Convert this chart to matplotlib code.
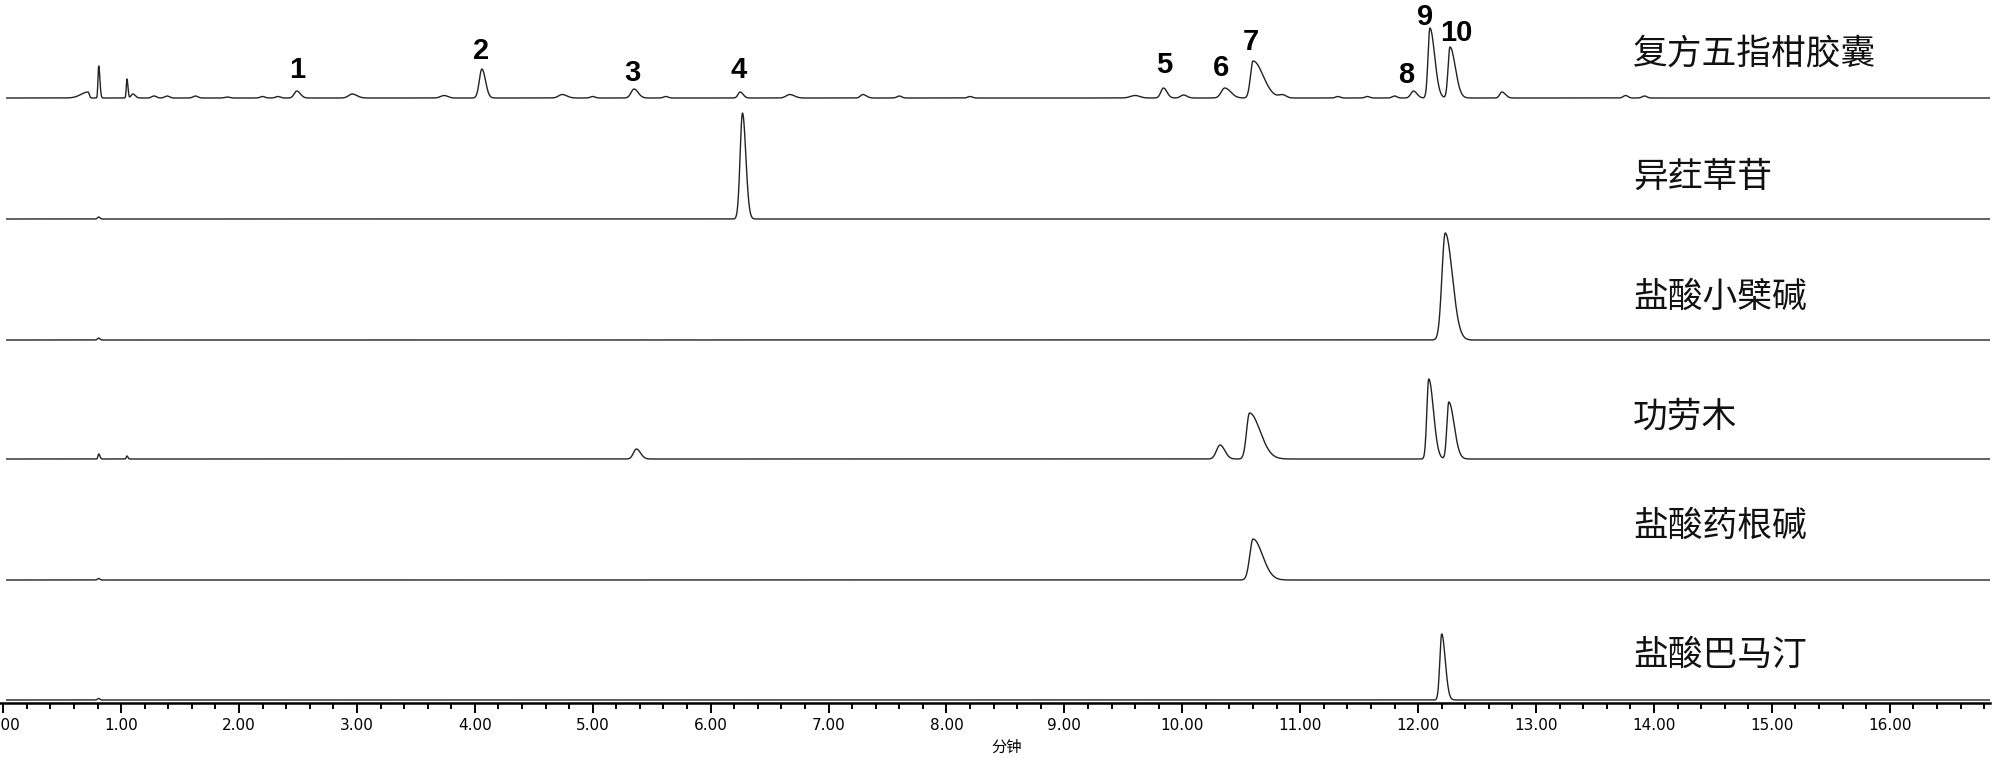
import numpy as np
import matplotlib.pyplot as plt
from matplotlib.ticker import MultipleLocator, FormatStrFormatter

plt.rcParams['font.family'] = ['Liberation Sans', 'DejaVu Sans']

sample_names = ['复方五指柑胶囊', '异荭草苷', '盐酸小檗碱', '功劳木', '盐酸药根碱', '盐酸巴马汀']

# peak tables: retention time (min), height (px), left / right half width (min)
capsule_rt = [0.72, 0.81, 1.05, 1.10, 1.28, 1.39, 1.63, 1.90, 2.20, 2.33, 2.49, 2.96, 3.74, 4.06, 4.74,
              5.00, 5.35, 5.62, 6.25, 6.67, 7.29, 7.60, 8.20, 9.60, 9.84, 10.01, 10.36, 10.60, 10.85,
              11.32, 11.57, 11.80, 11.96, 12.10, 12.27, 12.71, 13.76, 13.92]
capsule_h = [6, 32, 19, 4, 2, 2, 2, 1, 1.5, 1.5, 7, 4, 2.5, 29, 3.5,
             1.5, 9, 1.5, 6, 3.5, 3.5, 2, 1.5, 2.5, 10, 3, 10, 37, 3,
             1.5, 1.5, 2, 7, 70, 51, 6, 2.5, 2]
capsule_wl = [0.06, 0.006, 0.006, 0.015, 0.02, 0.02, 0.02, 0.02, 0.02, 0.02, 0.022, 0.03, 0.03, 0.022, 0.03,
              0.02, 0.025, 0.02, 0.018, 0.03, 0.02, 0.02, 0.02, 0.04, 0.022, 0.025, 0.03, 0.022, 0.03,
              0.02, 0.02, 0.02, 0.022, 0.016, 0.016, 0.018, 0.02, 0.02]
capsule_wr = [0.01, 0.01, 0.008, 0.02, 0.02, 0.02, 0.02, 0.02, 0.02, 0.02, 0.03, 0.04, 0.03, 0.03, 0.04,
              0.02, 0.035, 0.02, 0.025, 0.04, 0.03, 0.02, 0.02, 0.04, 0.03, 0.03, 0.05, 0.085, 0.03,
              0.02, 0.02, 0.02, 0.03, 0.04, 0.045, 0.03, 0.02, 0.02]

isoorientin_rt = [0.81, 6.27]
isoorientin_h = [2, 106]
isoorientin_wl = [0.01, 0.02]
isoorientin_wr = [0.01, 0.028]

berberine_rt = [0.81, 12.23]
berberine_h = [2, 107]
berberine_wl = [0.01, 0.028]
berberine_wr = [0.01, 0.06]

mahonia_rt = [0.81, 1.05, 5.37, 10.32, 10.57, 12.09, 12.26]
mahonia_h = [5, 3, 10, 14, 46, 80, 57]
mahonia_wl = [0.006, 0.006, 0.025, 0.03, 0.025, 0.016, 0.016]
mahonia_wr = [0.01, 0.008, 0.035, 0.04, 0.09, 0.04, 0.045]

jatrorrhizine_rt = [0.81, 10.60]
jatrorrhizine_h = [1.5, 41]
jatrorrhizine_wl = [0.01, 0.028]
jatrorrhizine_wr = [0.01, 0.08]

palmatine_rt = [0.81, 12.20]
palmatine_h = [1.5, 66]
palmatine_wl = [0.01, 0.016]
palmatine_wr = [0.01, 0.03]

peak_labels = ['1', '2', '3', '4', '5', '6', '7', '8', '9', '10']
label_t = [2.49, 4.05, 5.34, 6.24, 9.85, 10.33, 10.58, 11.90, 12.06, 12.32]
label_y = [633, 652, 630, 633, 638, 635, 661, 628, 686, 670]

traces = [
    (capsule_rt, capsule_h, capsule_wl, capsule_wr),
    (isoorientin_rt, isoorientin_h, isoorientin_wl, isoorientin_wr),
    (berberine_rt, berberine_h, berberine_wl, berberine_wr),
    (mahonia_rt, mahonia_h, mahonia_wl, mahonia_wr),
    (jatrorrhizine_rt, jatrorrhizine_h, jatrorrhizine_wl, jatrorrhizine_wr),
    (palmatine_rt, palmatine_h, palmatine_wl, palmatine_wr),
]
baselines = [605, 484, 363, 244, 123, 3]
name_y = [649, 526, 406, 286, 177, 48]

t = np.arange(0.03, 16.85, 0.002)


def chromatogram(rt, h, wl, wr):
    y = np.zeros_like(t)
    for r, a, sl, sr in zip(rt, h, wl, wr):
        s = np.where(t < r, sl, sr)
        y += a * np.exp(-0.5 * ((t - r) / s) ** 2)
    return y


fig = plt.figure(figsize=(20, 7.58), dpi=100)
ax = fig.add_axes([0, 55 / 758, 0.995, 703 / 758])

for (rt, h, wl, wr), base in zip(traces, baselines):
    ax.plot(t, base + chromatogram(rt, h, wl, wr), color='#222222', lw=1.0)

for name, y in zip(sample_names, name_y):
    ax.text(13.82, y, name, fontsize=25, va='center', ha='left',
            family=['Noto Sans CJK SC', 'DejaVu Sans'], color='#111111')

for lab, x, y in zip(peak_labels, label_t, label_y):
    ax.text(x, y, lab, fontsize=21, fontweight='bold', ha='center', va='center')

ax.set_xlim(-0.027, 16.85)
ax.set_ylim(0, 703)
for s in ['left', 'right', 'top']:
    ax.spines[s].set_visible(False)
ax.spines['bottom'].set_linewidth(1.8)
ax.set_yticks([])
ax.xaxis.set_major_locator(MultipleLocator(1.0))
ax.xaxis.set_minor_locator(MultipleLocator(0.2))
ax.xaxis.set_major_formatter(FormatStrFormatter('%.2f'))
ax.tick_params(axis='x', which='major', direction='out', length=7, width=1.4, labelsize=11, pad=4)
ax.tick_params(axis='x', which='minor', direction='out', length=4.5, width=1.4)
for lab in ax.get_xticklabels():
    lab.set_family(['Liberation Sans Narrow', 'DejaVu Sans'])

fig.text(1007 / 2000, 1 - 747 / 758, '分钟', fontsize=11, ha='center', va='center',
         family=['Noto Sans CJK SC', 'DejaVu Sans'])

fig.savefig('out.png', dpi=100)
